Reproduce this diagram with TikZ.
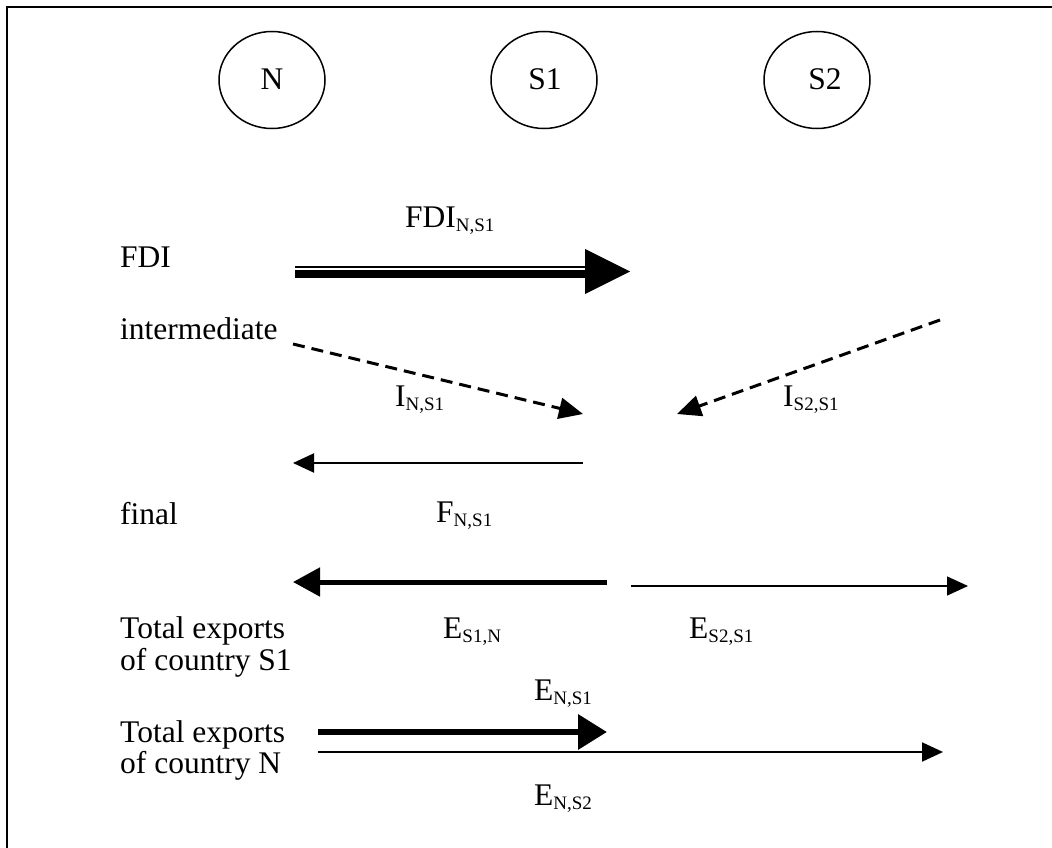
\documentclass[tikz,border=0pt]{standalone}
\usepackage{fontspec}
\setmainfont{Liberation Serif}
\usetikzlibrary{arrows.meta,shapes.geometric}
\newcommand\sbs[1]{\raisebox{-0.13em}{\fontsize{19}{19}\selectfont #1}}
\tikzset{
  ell/.style={ellipse,draw,line width=1.5pt,minimum width=106pt,minimum height=97pt,inner sep=0pt},
  lbl/.style={anchor=base west,inner sep=0pt,font=\fontsize{31.5}{36}\selectfont},
  dsh/.style={line width=3pt,dash pattern=on 12pt off 7pt,-{Triangle[length=24pt,width=21pt]}},
  thin/.style={line width=2pt,-{Triangle[length=21pt,width=19pt]}},
  thk/.style={line width=5pt,-{Triangle[length=27pt,width=28pt]}},
  thker/.style={line width=6.5pt,-{Triangle[length=29pt,width=34pt]}},
}
\begin{document}
\begin{tikzpicture}[x=1pt,y=-1pt]
\useasboundingbox (0,0) rectangle (1052,848);
% frame (top and left edges)
\draw[line width=2pt] (7,848) -- (7,7) -- (1052,7);
% countries
\node[ell] (N) at (272,80) {};
\node[ell] (S1) at (544,80) {};
\node[ell] (S2) at (817,80) {};
\node[lbl,anchor=base] (tN) at (272,90) {N};
\node[lbl,anchor=base] (tS1) at (545,90) {S1};
\node[lbl,anchor=base] (tS2) at (825,90) {S2};
% row labels
\node[lbl] (lFDI) at (120,267) {FDI};
\node[lbl] (lint) at (120,339) {intermediate};
\node[lbl] (lfin) at (120,524) {final};
\node[lbl] (lS1) at (120,638) {Total exports};
\node[lbl] (lS1b) at (120,670) {of country S1};
\node[lbl] (lN) at (120,742) {Total exports};
\node[lbl] (lNb) at (120,773) {of country N};
% arrow labels
\node[lbl] (aFDI) at (405,227) {FDI\sbs{N,S1}};
\node[lbl] (aIN) at (395,406) {I\sbs{N,S1}};
\node[lbl] (aIS2) at (783,406) {I\sbs{S2,S1}};
\node[lbl] (aF) at (436,522) {F\sbs{N,S1}};
\node[lbl] (aES1N) at (443,638) {E\sbs{S1,N}};
\node[lbl] (aES2S1) at (689,638) {E\sbs{S2,S1}};
\node[lbl] (aENS1) at (534,700) {E\sbs{N,S1}};
\node[lbl] (aENS2) at (534,805) {E\sbs{N,S2}};
% coordinates
\coordinate (f0) at (295,271.5);
\coordinate (f1) at (585,271.5);
\coordinate (f2) at (630,271.5);
\coordinate (i0) at (293,344);
\coordinate (i1) at (583,414);
\coordinate (j0) at (940,320);
\coordinate (j1) at (677,414);
\coordinate (g0) at (583,463);
\coordinate (g1) at (293,463);
\coordinate (e0) at (607,582);
\coordinate (e1) at (293,582);
\coordinate (h0) at (631,586);
\coordinate (h1) at (968,586);
\coordinate (k0) at (318,732);
\coordinate (k1) at (607,732);
\coordinate (m0) at (318,752);
\coordinate (m1) at (943,752);
% FDI double arrow (thin on top, thick below)
\draw[line width=2pt] ([yshift=4.5pt]f0) -- ([yshift=4.5pt]f1);
\draw[line width=8pt] ([yshift=-2.5pt]f0) -- ([yshift=-2.5pt]f1);
\fill ([yshift=-22.5pt]f1) -- (f2) -- ([yshift=22.5pt]f1) -- cycle;
% intermediate
\draw[dsh] (i0) -- (i1);
\draw[dsh] (j0) -- (j1);
% final
\draw[thin] (g0) -- (g1);
% exports S1
\draw[thk] (e0) -- (e1);
\draw[thin,line width=1.5pt] (h0) -- (h1);
% exports N
\draw[thker] (k0) -- (k1);
\draw[thin] (m0) -- (m1);
\end{tikzpicture}
\end{document}
